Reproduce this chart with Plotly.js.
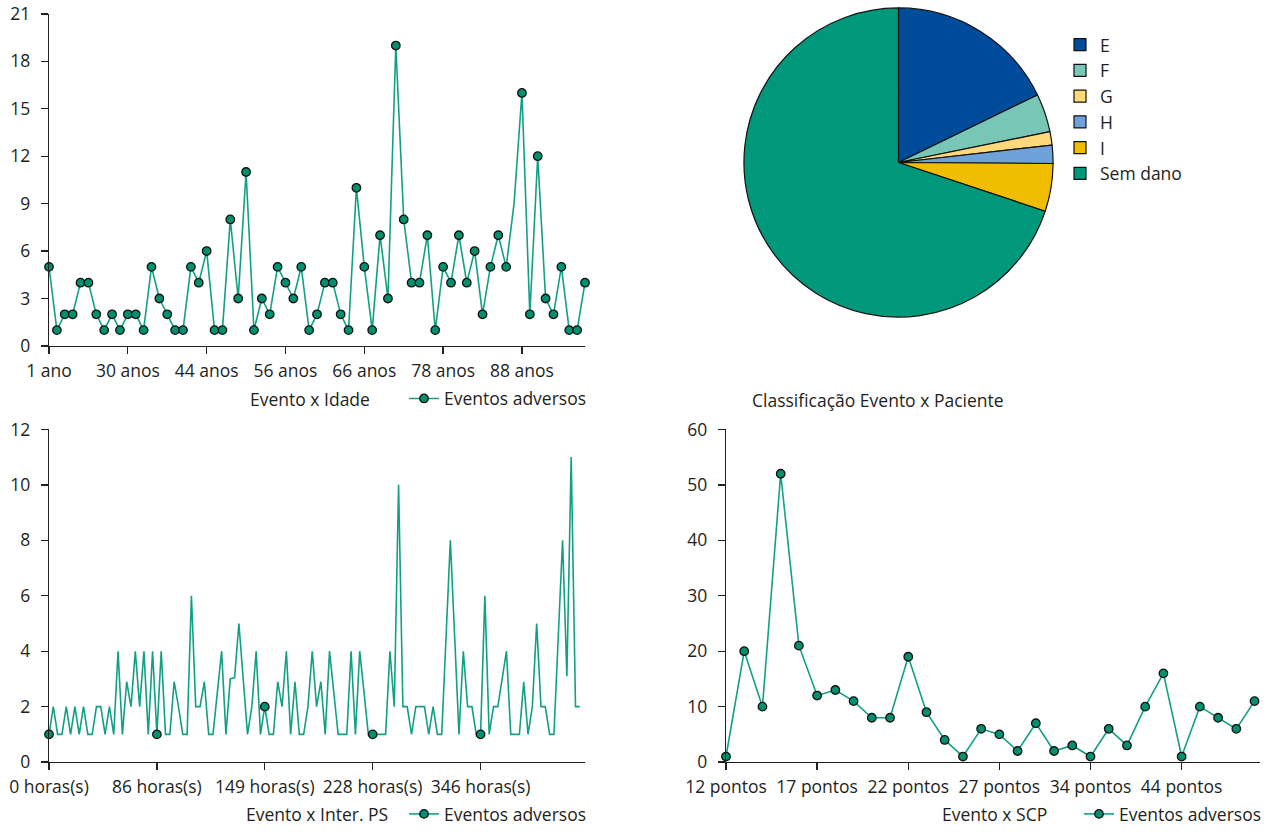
<!DOCTYPE html>
<html>
<head>
<meta charset="utf-8">
<script src="https://cdn.plot.ly/plotly-3.0.1.min.js"></script>
<style>html,body{margin:0;padding:0;background:#fff;}#chart{width:1272px;height:832px;}</style>
</head>
<body>
<div id="chart"></div>
<script>
// ---- Data ----
const TL_TICK_LABELS = ['1 ano', '30 anos', '44 anos', '56 anos', '66 anos', '78 anos', '88 anos'];
const TL_VALUES = [5,1,2,2,4,4,2,1,2,1, 2,2,1,5,3,2,1,1,5,4, 6,1,1,8,3,11,1,3,2,5,
                   4,3,5,1,2,4,4,2,1,10, 5,1,7,3,19,8,4,4,7,1, 5,4,7,4,6,2,5,7,5,9,
                   16,2,12,3,2,5,1,1,4];

const BL_TICK_LABELS = ['0 horas(s)', '86 horas(s)', '149 horas(s)', '228 horas(s)', '346 horas(s)'];
const BL_VALUES = [1,2,1,1,2,1,2,1,2,1, 1,2,2,1,2,1,4,1,2.9,2, 4,2,4,1,4,1,4,1,1,2.9,
                   2,1,1,6,2,2,2.9,1,1,2.5, 4,1,3,3.05,5,3,1,2,4,1, 2,1,1,2.9,2,4,1,2.9,1,1,
                   2,4,2,2.9,1,4,2.5,1,1,1, 4,1,4,2.5,1,1,1,1,1,4, 2,10,2,2,1,2,2,2,1,2,
                   1,1,4.5,8,4.5,1,4,2,2,1, 1,6,1,2,2,3,4,1,1,1, 2.9,1,2,5,2,2,1,1,4.5,8,
                   3.1,11,2,2];

const BR_TICK_LABELS = ['12 pontos', '17 pontos', '22 pontos', '27 pontos', '34 pontos', '44 pontos'];
const BR_VALUES = [1,20,10,52,21,12,13,11,8,8, 19,9,4,1,6,5,2,7,2,3, 1,6,3,10,16,1,10,8,6,11];

const PIE_LABELS = ['E', 'F', 'G', 'H', 'I', 'Sem dano'];
const PIE_VALUES = [17.8, 4.0, 1.4, 1.9, 5.0, 69.9];

const SERIES_NAME = 'Eventos adversos';

// ---- Style / layout config ----
const W = 1272, H = 832;
const TEXT = '#231f20';
const LINE = '#12a084';
const MARK = '#00906f';
const PIE_COLORS = ['#004c9b', '#78c6b5', '#ffd87a', '#6fa2d9', '#f1bd00', '#00987a'];
const FONT = {family: '"Open Sans", "Noto Sans", sans-serif', size: 17.5, color: TEXT};

const TL_TICK_EVERY = 10, BL_TICK_EVERY = 25, BR_TICK_EVERY = 5;
const TL_UNMARKED = [59];

const px = v => v / W;
const py = v => 1 - v / H;
const idx = arr => arr.map((_, i) => i);

function xAxis(dom, n, every, labels, anchor) {
  return {
    domain: dom, range: [0, n], anchor: anchor,
    tickmode: 'array', tickvals: labels.map((_, k) => k * every), ticktext: labels,
    ticks: 'outside', ticklen: 7, tickwidth: 1.3, tickcolor: TEXT,
    showline: true, linecolor: TEXT, linewidth: 1.3,
    showgrid: false, zeroline: false, ticklabelstandoff: 2,
    tickfont: FONT
  };
}
function yAxis(dom, max, dtick, anchor) {
  return {
    domain: dom, range: [0, max], anchor: anchor, tick0: 0, dtick: dtick,
    ticks: 'outside', ticklen: 7, tickwidth: 1.3, tickcolor: TEXT,
    showline: true, linecolor: TEXT, linewidth: 1.3,
    showgrid: false, zeroline: false, ticklabelstandoff: 7,
    tickfont: FONT
  };
}

const markerBase = {color: MARK, size: 8.5, line: {color: '#111', width: 1.3}};
const hideUnselected = {marker: {opacity: 0}};
const keepSelected = {marker: {opacity: 1}};

const tlMarked = idx(TL_VALUES).filter(i => !TL_UNMARKED.includes(i));
const blMarked = idx(BL_VALUES).filter(i => i % BL_TICK_EVERY === 0);

const traces = [
  {
    type: 'pie', labels: PIE_LABELS, values: PIE_VALUES, sort: false,
    direction: 'clockwise', rotation: 0, textinfo: 'none', hoverinfo: 'label+percent',
    marker: {colors: PIE_COLORS, line: {color: '#111', width: 1.2}},
    domain: {x: [px(743), px(1054)], y: [py(319), py(8)]},
    legend: 'legend', showlegend: true
  },
  {
    type: 'scatter', mode: 'lines+markers', name: SERIES_NAME,
    x: idx(TL_VALUES), y: TL_VALUES, xaxis: 'x', yaxis: 'y',
    line: {color: LINE, width: 1.6}, marker: markerBase,
    selectedpoints: tlMarked, selected: keepSelected, unselected: hideUnselected,
    cliponaxis: false, legend: 'legend2'
  },
  {
    type: 'scatter', mode: 'lines+markers', name: SERIES_NAME,
    x: idx(BL_VALUES), y: BL_VALUES, xaxis: 'x2', yaxis: 'y2',
    line: {color: LINE, width: 1.6}, marker: markerBase,
    selectedpoints: blMarked, selected: keepSelected, unselected: hideUnselected,
    cliponaxis: false, legend: 'legend3'
  },
  {
    type: 'scatter', mode: 'lines+markers', name: SERIES_NAME,
    x: idx(BR_VALUES), y: BR_VALUES, xaxis: 'x3', yaxis: 'y3',
    line: {color: LINE, width: 1.6}, marker: markerBase,
    cliponaxis: false, legend: 'legend4'
  }
];

const legendBase = {bgcolor: 'rgba(0,0,0,0)', borderwidth: 0, font: FONT, itemwidth: 30, tracegroupgap: 0};

const layout = {
  width: W, height: H,
  margin: {l: 0, r: 0, t: 0, b: 0},
  paper_bgcolor: '#fff', plot_bgcolor: '#fff',
  font: FONT,
  xaxis: xAxis([px(49), px(585)], TL_VALUES.length - 1, TL_TICK_EVERY, TL_TICK_LABELS, 'y'),
  yaxis: yAxis([py(348), py(14)], 21, 3, 'x'),
  xaxis2: xAxis([px(49), px(585)], BL_VALUES.length + 0.2, BL_TICK_EVERY, BL_TICK_LABELS, 'y2'),
  yaxis2: yAxis([py(766.7), py(432)], 12, 2, 'x2'),
  xaxis3: xAxis([px(726), px(1260)], BR_VALUES.length - 0.7, BR_TICK_EVERY, BR_TICK_LABELS, 'y3'),
  yaxis3: yAxis([py(766.7), py(432)], 60, 10, 'x3'),
  legend: Object.assign({}, legendBase, {x: px(1060), y: py(27), xanchor: 'left', yanchor: 'top'}),
  legend2: Object.assign({}, legendBase, {x: px(404), y: py(401), xanchor: 'left', yanchor: 'middle'}),
  legend3: Object.assign({}, legendBase, {x: px(404), y: py(819), xanchor: 'left', yanchor: 'middle'}),
  legend4: Object.assign({}, legendBase, {x: px(1079), y: py(819), xanchor: 'left', yanchor: 'middle'}),
  annotations: [
    {text: 'Evento x Idade', x: px(310), y: py(401)},
    {text: 'Classificação Evento x Paciente', x: px(878), y: py(402)},
    {text: 'Evento x Inter. PS', x: px(317), y: py(819)},
    {text: 'Evento x SCP', x: px(994), y: py(819)}
  ].map(a => Object.assign({xref: 'paper', yref: 'paper', showarrow: false, xanchor: 'center', yanchor: 'middle', font: FONT}, a)),
  showlegend: true
};

Plotly.newPlot('chart', traces, layout, {displayModeBar: false, staticPlot: true});
</script>
</body>
</html>
